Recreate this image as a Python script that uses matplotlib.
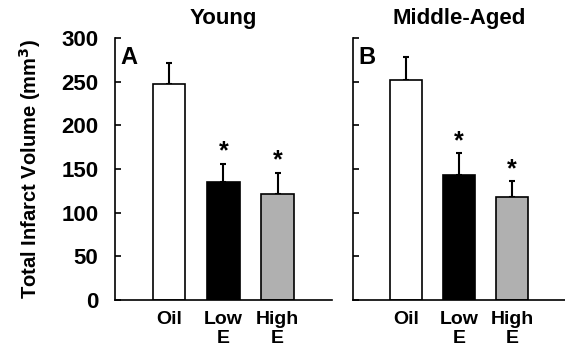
import matplotlib
matplotlib.use("Agg")
import matplotlib.pyplot as plt
import numpy as np

plt.rcParams['font.family'] = ['Liberation Sans', 'DejaVu Sans']
plt.rcParams['font.weight'] = 'bold'

groups = ['Oil', 'Low\nE', 'High\nE']
colors = ['white', 'black', '#b0b0b0']

young_mean = [247, 135, 121]
young_err = [24, 21, 25]
young_sig = [False, True, True]

middle_mean = [252, 143, 118]
middle_err = [26, 25, 18]
middle_sig = [False, True, True]

yticks = [0, 50, 100, 150, 200, 250, 300]


def drawPanel(ax, means, errs, sig, title, letter, showLabels):
    x = np.arange(1, len(means) + 1)
    ax.bar(x, means, width=0.6, color=colors, edgecolor='black', linewidth=1.2, zorder=2)
    ax.errorbar(x, means, yerr=[np.zeros(len(errs)), errs], fmt='none', ecolor='black',
                elinewidth=1.5, capsize=2.5, capthick=1.5, zorder=1)
    for xi, m, e, s in zip(x, means, errs, sig):
        if s:
            ax.annotate('*', (xi, m + e), xytext=(0, 0), textcoords='offset points',
                        ha='center', va='bottom', fontsize=18, fontweight='bold')
    ax.set_xlim(0, 4)
    ax.set_ylim(0, 300)
    ax.set_xticks(x)
    ax.set_xticklabels(groups, fontsize=14, fontweight='bold', linespacing=1.15)
    ax.tick_params(axis='x', length=0, pad=8)
    ax.set_yticks(yticks)
    ax.tick_params(axis='y', direction='in', length=4, width=1.2, pad=12)
    if showLabels:
        ax.set_yticklabels([str(t) for t in yticks], fontsize=16, fontweight='bold')
    else:
        ax.set_yticklabels([])
    ax.spines['top'].set_visible(False)
    ax.spines['right'].set_visible(False)
    ax.spines['left'].set_linewidth(1.2)
    ax.spines['bottom'].set_linewidth(1.2)
    ax.set_title(title, fontsize=16, fontweight='bold', pad=10)
    ax.text(0.025, 0.925, letter, transform=ax.transAxes, fontsize=17, fontweight='bold',
            ha='left', va='center')


fig = plt.figure(figsize=(5.65, 3.46), dpi=100)
axA = fig.add_axes([0.2035, 0.133, 0.384, 0.757])
axB = fig.add_axes([0.6248, 0.133, 0.3752, 0.757])

drawPanel(axA, young_mean, young_err, young_sig, 'Young', 'A', True)
drawPanel(axB, middle_mean, middle_err, middle_sig, 'Middle-Aged', 'B', False)

axA.set_ylabel('Total Infarct Volume (mm$^\\mathbf{3}$)', fontsize=14.5, fontweight='bold', labelpad=13)

fig.savefig('out.png', dpi=100)
